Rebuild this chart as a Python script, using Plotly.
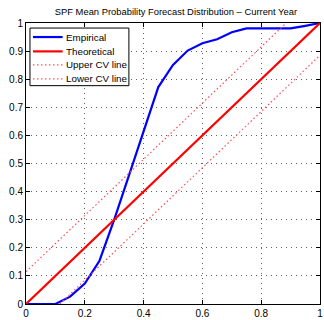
import plotly.graph_objects as go

x_emp = [0, 0.05, 0.10, 0.15, 0.20, 0.25, 0.30, 0.35, 0.40, 0.45, 0.50, 0.55, 0.60, 0.65, 0.70, 0.75, 0.80, 0.85, 0.90, 0.95, 1.0]
y_emp = [0, 0, 0, 0.026, 0.073, 0.154, 0.30, 0.457, 0.614, 0.772, 0.851, 0.902, 0.928, 0.942, 0.967, 0.981, 0.981, 0.981, 0.981, 0.99, 1.0]
x_line = [0, 1]
y_theo = [0, 1]
cv = 0.115
x_upper = [0, 1 - cv]
y_upper = [cv, 1]
x_lower = [cv, 1]
y_lower = [0, 1 - cv]
x_ticks = [0, 0.2, 0.4, 0.6, 0.8, 1]
y_ticks = [0, 0.1, 0.2, 0.3, 0.4, 0.5, 0.6, 0.7, 0.8, 0.9, 1]
legend_names = ["Empirical", "Theoretical", "Upper CV line", "Lower CV line"]

FONT = "Liberation Sans, Arial"
styles = [
    dict(color="#0000ff", width=2.2),
    dict(color="#ff0000", width=2.2),
    dict(color="#ff5050", width=1.2, dash="1.5px,2.5px"),
    dict(color="#ff5050", width=1.2, dash="1.5px,2.5px"),
]

fig = go.Figure()
series = [(x_emp, y_emp), (x_line, y_theo), (x_upper, y_upper), (x_lower, y_lower)]
for (xs, ys), name, st in zip(series, legend_names, styles):
    fig.add_trace(go.Scatter(x=xs, y=ys, mode="lines", name=name, line=st, showlegend=False))

# Manual legend (MATLAB style, compact)
box = dict(x0=0.0135, x1=0.35, y0=0.777, y1=0.982)
fig.add_shape(type="rect", xref="paper", yref="paper", **box,
              line=dict(color="black", width=1), fillcolor="white", layer="above")
row_y = [0.950, 0.899, 0.851, 0.801]
for name, st, yy in zip(legend_names, styles, row_y):
    fig.add_shape(type="line", xref="paper", yref="paper", x0=0.0236, x1=0.1246, y0=yy, y1=yy,
                  line=dict(color=st["color"], width=st["width"], dash=st.get("dash", "solid")),
                  layer="above")
    fig.add_annotation(x=0.128, y=yy, xref="paper", yref="paper", text=name, showarrow=False,
                       xanchor="left", yanchor="middle",
                       font=dict(family=FONT, size=9.8, color="black"))

axis_common = dict(showline=True, linecolor="black", linewidth=1, mirror="allticks",
                   ticks="inside", ticklen=4, tickcolor="black",
                   showgrid=True, gridcolor="#606060", griddash="1px,4px", gridwidth=1,
                   zeroline=False, ticklabeloverflow="allow",
                   tickfont=dict(family=FONT, size=10, color="black"))

fig.update_layout(
    width=324, height=320,
    margin=dict(l=26, r=1, t=23, b=15),
    paper_bgcolor="white", plot_bgcolor="white",
    title=dict(text="SPF Mean Probability Forecast Distribution \u2013 Current Year",
               x=0.543, xanchor="center", y=0.962, yanchor="middle",
               font=dict(family=FONT, size=9.4, color="black")),
    xaxis=dict(range=[0, 1], tickvals=x_ticks, ticktext=["0", "0.2", "0.4", "0.6", "0.8", "1"], **axis_common),
    yaxis=dict(range=[0, 1], tickvals=y_ticks, ticktext=["0", "0.1", "0.2", "0.3", "0.4", "0.5", "0.6", "0.7", "0.8", "0.9", "1"], **axis_common),
    showlegend=False,
)

fig.write_html("out.html", config={"displayModeBar": False},
               post_script="document.body.style.margin='0';document.body.style.padding='0';")
